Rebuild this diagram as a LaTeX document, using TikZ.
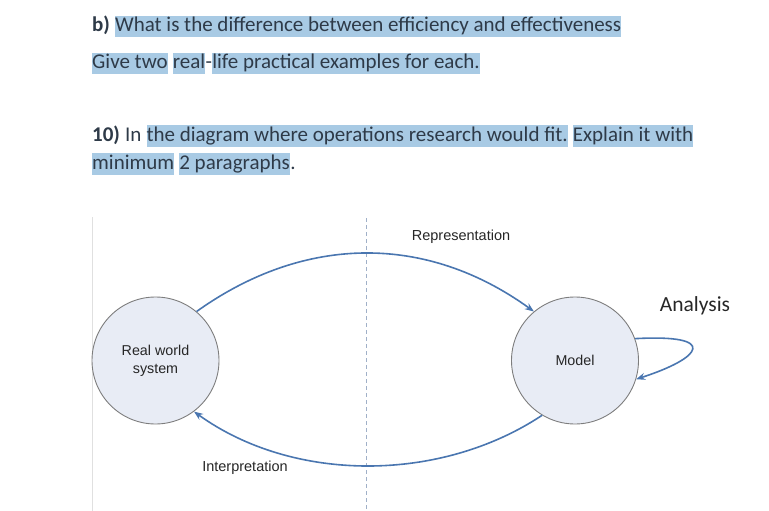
\documentclass[tikz,border=0pt]{standalone}
\usepackage{fontspec}
\setmainfont{Carlito}
\newfontfamily\arialfont{Liberation Sans}
\usetikzlibrary{arrows.meta, positioning}
\definecolor{hlblue}{RGB}{168,202,228}
\definecolor{inkgray}{RGB}{46,58,72}
\definecolor{arcblue}{RGB}{74,118,176}
\definecolor{discfill}{RGB}{232,236,245}
\definecolor{discline}{RGB}{125,125,125}
\definecolor{guide}{RGB}{160,176,200}

\begin{document}
\begin{tikzpicture}[x=1pt, y=1pt,
    txt/.style={inner xsep=0pt, inner ysep=0.5pt, text height=15.8pt, text depth=5pt,
                font=\fontsize{21}{24}\selectfont, text=inkgray},
    hl/.style={txt, fill=hlblue},
    disc/.style={circle, draw=discline, fill=discfill, minimum size=127pt, inner sep=0pt,
                 line width=0.9pt, align=center, text=black!85,
                 font=\arialfont\fontsize{14.3}{18}\selectfont},
    flow/.style={arcblue, line width=1.6pt, -{Stealth[length=9pt,width=7pt]}},
    lbl/.style={inner sep=0pt, text=black!85, font=\arialfont\fontsize{14.5}{17}\selectfont}
]
\useasboundingbox (0,0) rectangle (769,-511);
% question b
\node[txt, anchor=base west] (qb) at (92,-32) {\textbf{b)}};
\node[hl, right=4.7pt of qb] (qbtext) {What is the difference between efficiency and effectiveness};
\node[hl, anchor=base west] (give) at (92,-69) {Give two};
\node[hl, right=4.7pt of give] (real) {real};
\node[txt, right=0pt of real] (hyphen) {-};
\node[hl, right=0pt of hyphen] (life) {life practical examples for each.};
% question 10
\node[txt, anchor=base west] (q10) at (92,-141) {\textbf{10)}};
\node[txt, right=4.7pt of q10] (in) {In};
\node[hl, right=4.7pt of in] (fit) {the diagram where operations research would fit.};
\node[hl, right=4.7pt of fit] (explain) {Explain it with\ };
\node[hl, anchor=base west] (minimum) at (92,-169) {minimum};
\node[hl, right=4.7pt of minimum] (paras) {2 paragraphs};
\node[txt, right=0pt of paras] (stop) {.};
% diagram
\draw[black!12, line width=0.8pt] (92,-217) -- (92,-511);
\draw[guide, line width=0.6pt, dash pattern=on 4pt off 3pt] (366,-218) -- (366,-511);
\node[disc] (rws) at (155.5,-360.5) {Real world\\system};
\node[disc] (model) at (575,-360.5) {Model};
\draw[flow] (rws.50) .. controls (305,-234) and (427,-234) .. (model.130);
\draw[flow] (model.239) .. controls (440,-483) and (293,-483) .. (rws.-53);
\draw[flow] (model.20) .. controls (720,-334) and (702,-358) .. (model.-17);
\node[lbl] (repr) at (461,-237) {Representation};
\node[lbl] (interp) at (245,-468) {Interpretation};
\node[inner sep=0pt, text=black!85, font=\fontsize{21.5}{24}\selectfont] (analysis) at (695,-306) {Analysis};
\end{tikzpicture}
\end{document}
